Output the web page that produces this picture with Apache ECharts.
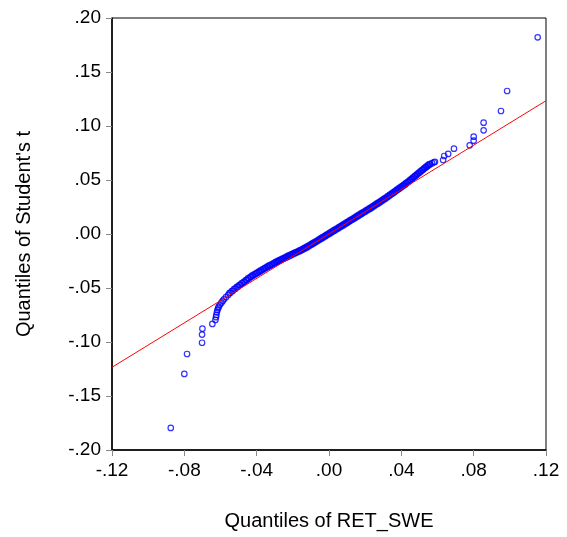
<!DOCTYPE html>
<html>
<head>
<meta charset="utf-8">
<script src="https://cdn.jsdelivr.net/npm/echarts@6/dist/echarts.min.js"></script>
<style>
  html, body { margin: 0; padding: 0; background: #fff; }
  #chart { width: 567px; height: 537px; }
</style>
</head>
<body>
<div id="chart"></div>
<script>
// quantile pairs: x = RET_SWE, y = Student's t
const tailLowX = [-0.0875, -0.0800, -0.0785, -0.0702, -0.0702, -0.0700, -0.0645];
const tailLowY = [-0.1796, -0.1296, -0.1111, -0.1007, -0.0931, -0.0877, -0.0833];

const bulkX = [
  -0.0628, -0.0625, -0.0623, -0.0620, -0.0617, -0.0613, -0.0610, -0.0603, -0.0595, -0.0588,
  -0.0581, -0.0570, -0.0558, -0.0545, -0.0531, -0.0517, -0.0503, -0.0490, -0.0478, -0.0466,
  -0.0454, -0.0442, -0.0429, -0.0418, -0.0406, -0.0395, -0.0383, -0.0372, -0.0360, -0.0348,
  -0.0337, -0.0325, -0.0312, -0.0300, -0.0290, -0.0280, -0.0270, -0.0260, -0.0250, -0.0240,
  -0.0230, -0.0220, -0.0210, -0.0200, -0.0190, -0.0180, -0.0170, -0.0160, -0.0150, -0.0140,
  -0.0130, -0.0120, -0.0110, -0.0100, -0.0090, -0.0080, -0.0070, -0.0060, -0.0050, -0.0040,
  -0.0030, -0.0020, -0.0010, 0.0000, 0.0010, 0.0020, 0.0030, 0.0040, 0.0050, 0.0060,
  0.0070, 0.0080, 0.0090, 0.0100, 0.0110, 0.0120, 0.0130, 0.0140, 0.0150, 0.0160,
  0.0170, 0.0180, 0.0190, 0.0200, 0.0210, 0.0220, 0.0230, 0.0240, 0.0250, 0.0260,
  0.0270, 0.0280, 0.0290, 0.0300, 0.0310, 0.0320, 0.0330, 0.0340, 0.0350, 0.0360,
  0.0370, 0.0380, 0.0390, 0.0400, 0.0410, 0.0420, 0.0430, 0.0440, 0.0450, 0.0460,
  0.0470, 0.0480, 0.0490, 0.0500, 0.0510, 0.0520, 0.0530, 0.0540, 0.0550, 0.0560,
  0.0570, 0.0580, 0.0586
];
const bulkY = [
  -0.0796, -0.0770, -0.0750, -0.0725, -0.0704, -0.0688, -0.0673, -0.0655, -0.0636, -0.0620,
  -0.0605, -0.0585, -0.0565, -0.0545, -0.0525, -0.0506, -0.0488, -0.0471, -0.0456, -0.0442,
  -0.0426, -0.0411, -0.0395, -0.0384, -0.0372, -0.0361, -0.0349, -0.0338, -0.0326, -0.0314,
  -0.0303, -0.0293, -0.0282, -0.0271, -0.0262, -0.0253, -0.0245, -0.0237, -0.0229, -0.0220,
  -0.0212, -0.0204, -0.0196, -0.0188, -0.0180, -0.0172, -0.0165, -0.0157, -0.0149, -0.0140,
  -0.0131, -0.0122, -0.0112, -0.0102, -0.0092, -0.0082, -0.0072, -0.0061, -0.0051, -0.0041,
  -0.0031, -0.0020, -0.0010, 0.0000, 0.0010, 0.0021, 0.0031, 0.0041, 0.0051, 0.0062,
  0.0072, 0.0082, 0.0093, 0.0103, 0.0113, 0.0124, 0.0134, 0.0144, 0.0155, 0.0165,
  0.0175, 0.0186, 0.0196, 0.0206, 0.0217, 0.0227, 0.0237, 0.0248, 0.0259, 0.0270,
  0.0281, 0.0292, 0.0303, 0.0314, 0.0325, 0.0337, 0.0349, 0.0361, 0.0373, 0.0385,
  0.0397, 0.0409, 0.0421, 0.0433, 0.0445, 0.0457, 0.0470, 0.0483, 0.0497, 0.0511,
  0.0525, 0.0539, 0.0553, 0.0567, 0.0581, 0.0594, 0.0608, 0.0621, 0.0634, 0.0645,
  0.0656, 0.0664, 0.0669
];

// second row of the dense band (upper edge)
const bandX = [
  -0.0551, -0.0538, -0.0524, -0.0510, -0.0496, -0.0484, -0.0472, -0.0460, -0.0448, -0.0435,
  -0.0424, -0.0412, -0.0400, -0.0389, -0.0378, -0.0366, -0.0354, -0.0342, -0.0331, -0.0318,
  -0.0306, -0.0295, -0.0285, -0.0275, -0.0265, -0.0255, -0.0245, -0.0235, -0.0225, -0.0215,
  -0.0205, -0.0195, -0.0185, -0.0175, -0.0165, -0.0155, -0.0145, -0.0135, -0.0125, -0.0115,
  -0.0105, -0.0095, -0.0085, -0.0075, -0.0065, -0.0055, -0.0045, -0.0035, -0.0025, -0.0015,
  -0.0005, 0.0005, 0.0015, 0.0025, 0.0035, 0.0045, 0.0055, 0.0065, 0.0075, 0.0085,
  0.0095, 0.0105, 0.0115, 0.0125, 0.0135, 0.0145, 0.0155, 0.0165, 0.0175, 0.0185,
  0.0195, 0.0205, 0.0215, 0.0225, 0.0235, 0.0245, 0.0255, 0.0265, 0.0275, 0.0285,
  0.0295, 0.0305, 0.0315, 0.0325, 0.0335, 0.0345, 0.0355, 0.0365, 0.0375, 0.0385,
  0.0395, 0.0405, 0.0415, 0.0425, 0.0435, 0.0445, 0.0455, 0.0465, 0.0475, 0.0485,
  0.0495, 0.0505, 0.0515, 0.0525, 0.0535, 0.0545, 0.0555
];
const bandY = [
  -0.0548, -0.0528, -0.0508, -0.0490, -0.0473, -0.0456, -0.0442, -0.0427, -0.0411, -0.0396,
  -0.0383, -0.0371, -0.0359, -0.0348, -0.0336, -0.0325, -0.0313, -0.0301, -0.0291, -0.0280,
  -0.0269, -0.0259, -0.0251, -0.0242, -0.0234, -0.0226, -0.0218, -0.0209, -0.0201, -0.0193,
  -0.0185, -0.0177, -0.0169, -0.0162, -0.0154, -0.0146, -0.0138, -0.0129, -0.0120, -0.0110,
  -0.0100, -0.0090, -0.0080, -0.0070, -0.0060, -0.0049, -0.0039, -0.0029, -0.0019, -0.0008,
  0.0002, 0.0012, 0.0023, 0.0033, 0.0043, 0.0053, 0.0064, 0.0074, 0.0084, 0.0095,
  0.0105, 0.0115, 0.0126, 0.0136, 0.0146, 0.0157, 0.0167, 0.0177, 0.0188, 0.0198,
  0.0208, 0.0219, 0.0229, 0.0239, 0.0250, 0.0261, 0.0272, 0.0283, 0.0294, 0.0305,
  0.0316, 0.0327, 0.0338, 0.0350, 0.0362, 0.0374, 0.0386, 0.0398, 0.0410, 0.0422,
  0.0434, 0.0446, 0.0458, 0.0471, 0.0484, 0.0497, 0.0511, 0.0525, 0.0539, 0.0553,
  0.0567, 0.0581, 0.0595, 0.0608, 0.0622, 0.0635, 0.0647
];

const tailHighX = [0.0631, 0.0637, 0.0659, 0.0691, 0.0778, 0.0800, 0.0800, 0.0855, 0.0855, 0.0951, 0.0985, 0.1154];
const tailHighY = [0.0685, 0.0722, 0.0741, 0.0790, 0.0821, 0.0864, 0.0901, 0.0960, 0.1031, 0.1139, 0.1324, 0.1821];

// reference line
const fitX = [-0.12, 0.12];
const fitY = [-0.1234, 0.1234];

const xTicks = [-0.12, -0.08, -0.04, 0.00, 0.04, 0.08, 0.12];
const yTicks = [-0.20, -0.15, -0.10, -0.05, 0.00, 0.05, 0.10, 0.15, 0.20];

const qqX = tailLowX.concat(bulkX, bandX, tailHighX);
const qqY = tailLowY.concat(bulkY, bandY, tailHighY);
const points = qqX.map((x, i) => [x, qqY[i]]);
const fitLine = fitX.map((x, i) => [x, fitY[i]]);

// ".05" / "-.10" style labels
const fmt = (v) => {
  const s = Math.abs(v).toFixed(2).replace(/^0/, '');
  return (v < -1e-9 ? '-' : '') + s;
};

const font = 'Liberation Sans, Arial, sans-serif';

const chart = echarts.init(document.getElementById('chart'));
chart.setOption({
  animation: false,
  grid: {
    left: 112, right: 21, top: 18, bottom: 87,
    show: true, borderColor: '#000', borderWidth: 1
  },
  xAxis: {
    type: 'value',
    min: xTicks[0], max: xTicks[xTicks.length - 1], interval: 0.04,
    name: 'Quantiles of RET_SWE',
    nameLocation: 'middle', nameGap: 61,
    nameTextStyle: { fontFamily: font, fontSize: 20, color: '#000' },
    axisLine: { show: true, onZero: false, lineStyle: { color: '#000', width: 1.5 } },
    axisTick: { show: true, inside: false, length: 6, lineStyle: { color: '#888' } },
    axisLabel: { fontFamily: font, fontSize: 19, color: '#000', margin: 11, formatter: fmt },
    splitLine: { show: false }
  },
  yAxis: {
    type: 'value',
    min: yTicks[0], max: yTicks[yTicks.length - 1], interval: 0.05,
    name: "Quantiles of Student's t",
    nameLocation: 'middle', nameGap: 78,
    nameTextStyle: { fontFamily: font, fontSize: 20, color: '#000' },
    axisLine: { show: true, onZero: false, lineStyle: { color: '#000', width: 1.5 } },
    axisTick: { show: true, inside: false, length: 6, lineStyle: { color: '#888' } },
    axisLabel: { fontFamily: font, fontSize: 19, color: '#000', margin: 11, formatter: fmt },
    splitLine: { show: false }
  },
  series: [
    {
      type: 'scatter',
      data: points,
      symbol: 'circle',
      symbolSize: 5.5,
      itemStyle: { color: 'rgba(0,0,0,0)', borderColor: '#0000FF', borderWidth: 1.2 },
      z: 2
    },
    {
      type: 'line',
      data: fitLine,
      showSymbol: false,
      lineStyle: { color: '#FF0000', width: 1 },
      z: 3
    }
  ]
});
</script>
</body>
</html>
